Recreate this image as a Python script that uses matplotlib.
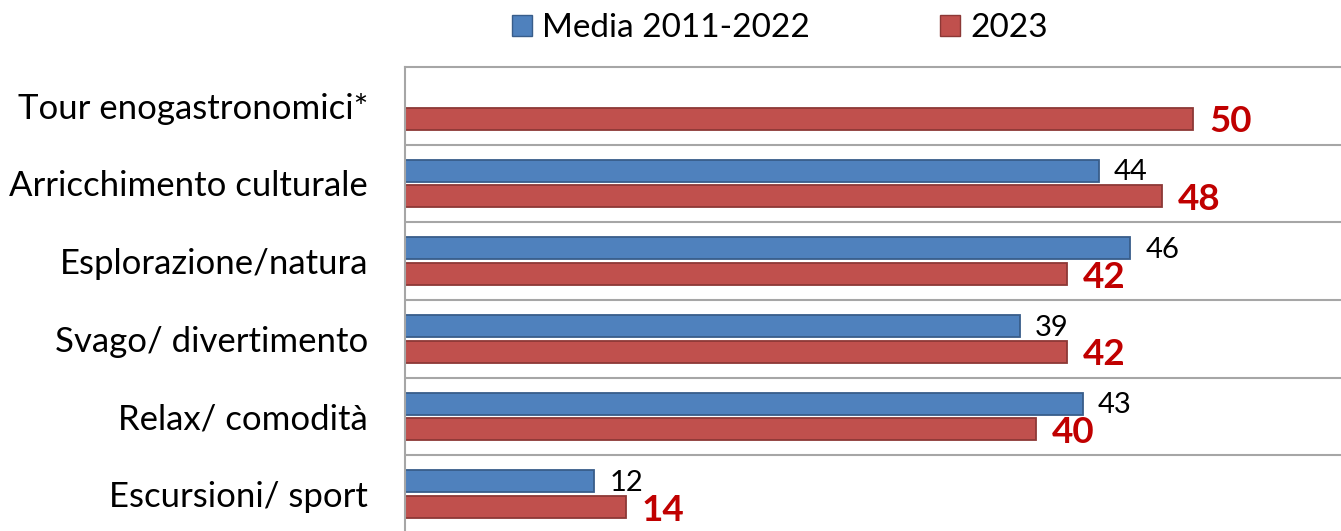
import numpy as np
import matplotlib
matplotlib.use('Agg')
import matplotlib.pyplot as plt
from matplotlib.patches import Patch

plt.rcParams['font.family'] = ['Lato', 'DejaVu Sans']

categorie = ['Tour enogastronomici*', 'Arricchimento culturale', 'Esplorazione/natura',
             'Svago/ divertimento', 'Relax/ comodità', 'Escursioni/ sport']
media_2011_2022 = [np.nan, 44, 46, 39, 43, 12]
anno_2023 = [50, 48, 42, 42, 40, 14]
serie_nomi = ['Media 2011-2022', '2023']

BLU, BLU_BORDO = '#4F81BD', '#385D8A'
ROSSO, ROSSO_BORDO = '#C0504D', '#8C3836'
GRIGIO = '#A6A6A6'

fig = plt.figure(figsize=(13.41, 5.31), dpi=100)
# asse: x 405..1351 px, y 67..533 px (in basso tagliato come nell'originale)
ax = fig.add_axes([405 / 1341, (531 - 533) / 531, 946 / 1341, 466 / 531])

y = np.arange(len(categorie))
h = 0.28
off = 0.165

for i, (m, a) in enumerate(zip(media_2011_2022, anno_2023)):
    if not np.isnan(m):
        ax.barh(y[i] - off, m, height=h, color=BLU, edgecolor=BLU_BORDO, linewidth=1.3)
        ax.text(m + 0.95, y[i] - off + 0.02, f'{m:.0f}', va='center', ha='left',
                fontsize=21, color='black')
    ax.barh(y[i] + off, a, height=h, color=ROSSO, edgecolor=ROSSO_BORDO, linewidth=1.3)
    ax.text(a + 1.0, y[i] + off + 0.04, f'{a}', va='center', ha='left',
            fontsize=26.5, fontweight='bold', color='#C00000')

ax.set_xlim(0, 60)
ax.set_ylim(len(categorie) - 0.5, -0.5)
ax.set_yticks(y)
ax.set_yticklabels(categorie, fontsize=25)
ax.tick_params(axis='y', length=0, pad=26.5)
ax.set_xticks([])

for b in np.arange(0.5, len(categorie) - 0.5, 1):
    ax.axhline(b, color=GRIGIO, linewidth=1.5)

for s in ['right', 'bottom']:
    ax.spines[s].set_visible(False)
for s in ['left', 'top']:
    ax.spines[s].set_color(GRIGIO)
    ax.spines[s].set_linewidth(1.5)

handles = [Patch(facecolor=BLU, edgecolor=BLU_BORDO, label=serie_nomi[0]),
           Patch(facecolor=ROSSO, edgecolor=ROSSO_BORDO, label=serie_nomi[1])]
fig.legend(handles=handles, loc='center', bbox_to_anchor=(780 / 1341, 1 - 28 / 531),
           ncol=2, frameon=False, fontsize=24, handlelength=0.6, handleheight=0.6,
           handletextpad=0.3, columnspacing=3.9)

fig.savefig('out.png', dpi=100)
